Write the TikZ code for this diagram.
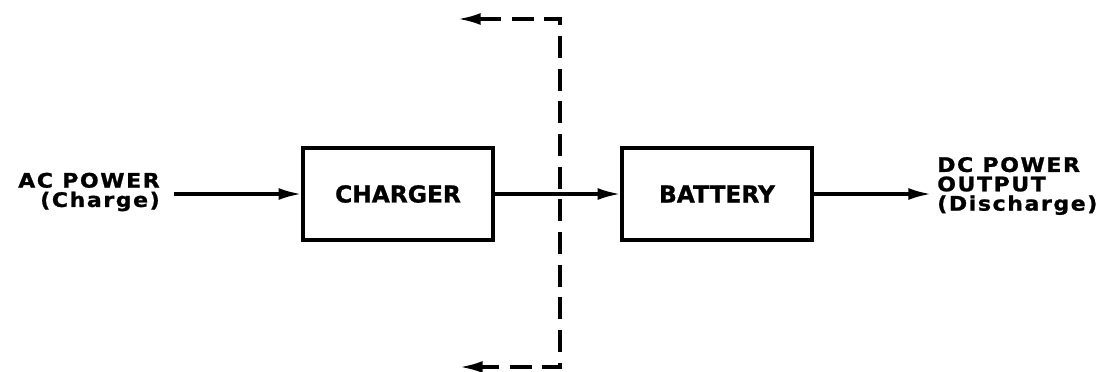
\documentclass[tikz,border=0pt]{standalone}
\usepackage{fontspec}
\setmainfont{DejaVu Sans}[BoldFont={DejaVu Sans Bold}]
\usetikzlibrary{arrows.meta}
\begin{document}
\begin{tikzpicture}[x=0.75pt,y=-0.75pt,
  lbl/.style={font=\fontsize{15pt}{13.5pt}\selectfont\bfseries\addfontfeatures{FakeStretch=1.1,LetterSpace=8,FakeBold=1.2}, inner sep=0pt},
  blk/.style={draw, line width=3.1pt, inner sep=0pt, font=\fontsize{17.5pt}{18pt}\selectfont\bfseries\addfontfeatures{FakeBold=1}},
  arr/.style={line width=2.3pt, -{Latex[length=17pt,width=9pt]}},
  dsh/.style={line width=2.3pt, dash pattern=on 16.5pt off 8pt, {Latex[length=17pt,width=9pt]}-{Latex[length=17pt,width=9pt]}}]
\useasboundingbox (0,0) rectangle (1098,371);
\node[blk, minimum width=142pt, minimum height=69pt] (charger) at (398,194) {CHARGER};
\node[blk, minimum width=142pt, minimum height=69pt] (battery) at (717,194) {BATTERY};
\node[lbl, align=right, anchor=east] (ac) at (160,192) {AC POWER\\[1pt](Charge)};
\node[lbl, align=left, anchor=west] (dc) at (937,186) {DC POWER\\[1pt]OUTPUT\\[1pt](Discharge)};
\coordinate (acs) at (174,194);
\coordinate (dce) at (931,194);
\draw[arr] (acs) -- (charger.west);
\draw[arr] (charger.east) -- (battery.west);
\draw[arr] (battery.east) -- (dce);
\coordinate (tt) at (458,19);
\coordinate (tc) at (560,19);
\coordinate (bc) at (560,367);
\coordinate (bt) at (460,367);
\draw[dsh] (tt) -- (tc) -- (bc) -- (bt);
\end{tikzpicture}
\end{document}
